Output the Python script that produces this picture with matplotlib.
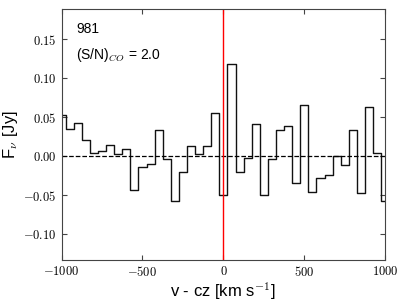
import matplotlib.pyplot as plt
import numpy as np
from matplotlib.ticker import FuncFormatter, MultipleLocator

plt.rcParams['mathtext.fontset'] = 'cm'
plt.rcParams['font.family'] = ['Liberation Sans', 'DejaVu Sans']

# channel centres [km/s] and flux densities [Jy]
velocity = np.arange(-1000, 1001, 50)
flux = [0.052, 0.035, 0.042, 0.020, 0.004, 0.007, 0.0145, 0.003, 0.0088, -0.043,
        -0.0145, -0.0105, 0.034, -0.004, -0.058, -0.0207, 0.0128, 0.0026, 0.0125, 0.055,
        -0.050, 0.118, -0.0205, -0.003, 0.0406, -0.050, -0.0038, 0.033, 0.039, -0.0346,
        0.066, -0.046, -0.0286, -0.0248, 0.0002, -0.011, 0.0337, -0.047, 0.063, 0.0035,
        -0.058]

source_id = "981"
snr = 2.0


def main():
    fig = plt.figure(figsize=(4.06, 3.05), dpi=100)
    ax = fig.add_axes([0.1515, 0.1475, 0.7975, 0.823])

    ax.step(velocity, flux, where='mid', color='#111111', lw=1.0)
    ax.axhline(0, color='black', ls='--', lw=0.9)
    ax.axvline(0, color='red', lw=1.0)

    ax.set_xlim(-1000, 1000)
    ax.set_ylim(-0.1333, 0.1885)
    ax.xaxis.set_major_locator(MultipleLocator(500))
    ax.yaxis.set_major_locator(MultipleLocator(0.05))
    ax.xaxis.set_major_formatter(FuncFormatter(lambda v, p: r'$%d$' % v))
    ax.yaxis.set_major_formatter(FuncFormatter(lambda v, p: r'$%.2f$' % v))
    ax.tick_params(direction='in', top=True, right=True, length=3.5,
                   labelsize=9, colors='#444444', labelcolor='black', pad=3.5)
    for s in ax.spines.values():
        s.set_color('#444444')

    ax.set_xlabel(r'v - cz [km s$^{-1}$]', fontsize=12, labelpad=1)
    ax.set_ylabel(r'F$_\nu$ [Jy]', fontsize=12)
    ax.yaxis.set_label_coords(-0.128, 0.5)

    ax.text(0.045, 0.905, source_id, transform=ax.transAxes, fontsize=10)
    ax.text(0.045, 0.80, r'(S/N)$_{CO}$ = %.1f' % snr, transform=ax.transAxes, fontsize=10)

    fig.savefig("out.png", dpi=100)


if __name__ == "__main__":
    main()
